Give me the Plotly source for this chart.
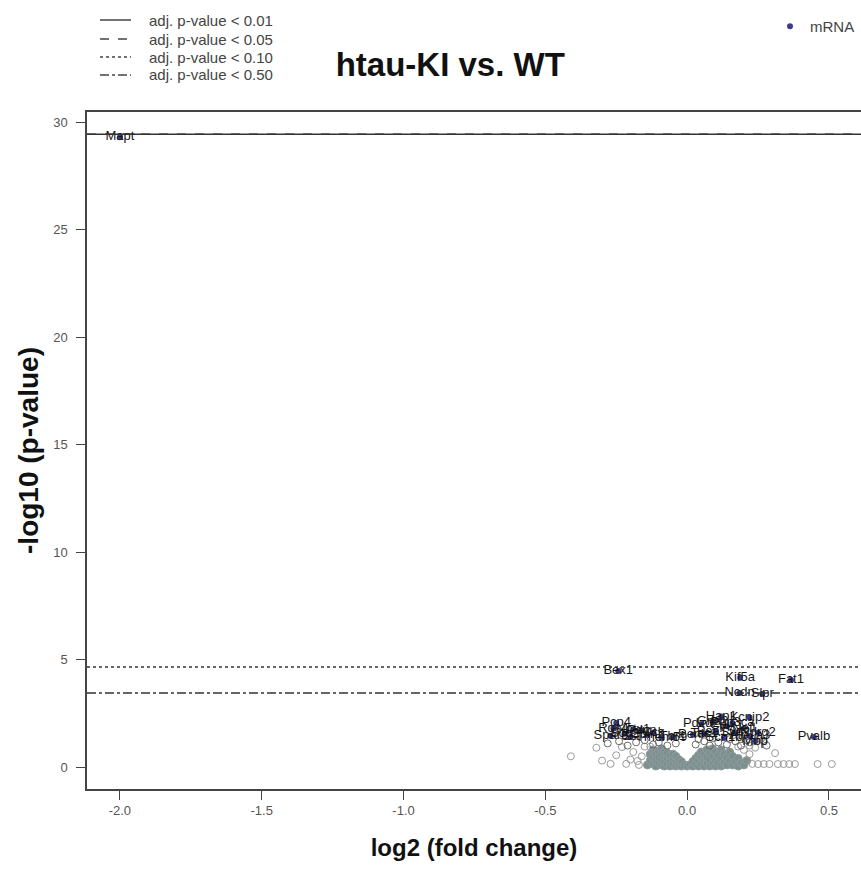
import plotly.graph_objects as go

# ---------------- data ----------------
# significant / labelled genes (navy dots with labels)
sig_genes = ["Mapt", "Bex1", "Kif5a", "Fat1", "Ncdn", "Slpr",
             "Pcp4", "Rgs4", "Sparc", "Scg2", "Nptx1", "Pdyn", "Cbln2", "Cck", "Tmem59", "Tbr1", "Sst",
             "Penk", "Pdzd2", "Tac1", "Pea15", "Gria2", "Hap1", "Kcnip2", "Cplx1", "Syn2", "Nefl",
             "Atp1a3", "Ndrg2", "Scn1b", "Ppp3ca", "Mbp", "Pvalb"]
sig_lfc = [-2.00, -0.243, 0.187, 0.366, 0.185, 0.265,
           -0.25, -0.26, -0.27, -0.22, -0.19, -0.16, -0.14, -0.12, -0.09, -0.05, -0.20,
           0.02, 0.05, 0.06, 0.10, 0.09, 0.12, 0.22, 0.14, 0.17, 0.20,
           0.22, 0.25, 0.13, 0.16, 0.24, 0.447]
sig_p = [29.3, 4.47, 4.15, 4.05, 3.45, 3.40,
         2.05, 1.80, 1.45, 1.55, 1.75, 1.70, 1.50, 1.60, 1.35, 1.40, 1.40,
         1.50, 2.00, 1.55, 1.65, 2.10, 2.35, 2.30, 1.90, 1.60, 1.80,
         1.45, 1.60, 1.35, 2.05, 1.20, 1.40]

# dense non-significant core (filled grey)
core_lfc = [-0.14, -0.13, -0.13, -0.12, -0.12, -0.12, -0.11, -0.11, -0.11, -0.10, -0.10, -0.10,
            -0.09, -0.09, -0.09, -0.09, -0.08, -0.08, -0.08, -0.08, -0.07, -0.07, -0.07,
            -0.06, -0.06, -0.06, -0.05, -0.05, -0.05, -0.04, -0.04, -0.04, -0.03, -0.03,
            -0.02, -0.02, -0.01, 0.00,
            0.01, 0.02, 0.02, 0.03, 0.03, 0.04, 0.04, 0.04, 0.05, 0.05, 0.05, 0.06, 0.06, 0.06,
            0.07, 0.07, 0.07, 0.08, 0.08, 0.08, 0.09, 0.09, 0.09, 0.10, 0.10, 0.10, 0.11, 0.11,
            0.12, 0.12, 0.12, 0.13, 0.13, 0.14, 0.14, 0.15, 0.15, 0.16, 0.16, 0.17, 0.18, 0.18,
            0.19, 0.20, 0.21]
core_p = [0.10, 0.30, 0.60, 0.15, 0.45, 0.80, 0.05, 0.30, 0.60, 0.20, 0.45, 0.75,
          0.10, 0.35, 0.60, 0.85, 0.05, 0.25, 0.50, 0.70, 0.15, 0.40, 0.65,
          0.05, 0.30, 0.55, 0.15, 0.40, 0.60, 0.05, 0.30, 0.50, 0.10, 0.35,
          0.05, 0.25, 0.10, 0.05,
          0.10, 0.05, 0.25, 0.15, 0.40, 0.05, 0.30, 0.55, 0.15, 0.45, 0.70, 0.05, 0.30, 0.60,
          0.20, 0.45, 0.80, 0.05, 0.35, 0.65, 0.15, 0.50, 0.85, 0.05, 0.30, 0.70, 0.20, 0.55,
          0.05, 0.40, 0.80, 0.20, 0.60, 0.10, 0.45, 0.30, 0.70, 0.10, 0.50, 0.25, 0.05, 0.40,
          0.20, 0.10, 0.30]

# scattered non-significant genes (open grey circles)
out_lfc = [-0.41, -0.32, -0.30, -0.27, -0.25, -0.23, -0.215, -0.20, -0.19, -0.175, -0.16, -0.15,
           -0.17, -0.13, 0.18, 0.20, 0.22, 0.22, 0.23, 0.24, 0.25, 0.27, 0.29, 0.31, 0.32,
           0.34, 0.36, 0.38, 0.46, 0.51]
out_p = [0.50, 0.90, 0.30, 0.15, 0.55, 0.93, 0.15, 0.35, 0.70, 0.28, 0.50, 0.95,
         0.10, 0.95, 0.95, 0.80, 1.00, 0.60, 0.15, 0.90, 0.14, 0.14, 0.14, 0.65, 0.14,
         0.14, 0.14, 0.14, 0.14, 0.14]

# mid-range genes beneath the label cloud (darker open circles)
mid_lfc = [-0.28, -0.24, -0.21, -0.18, -0.15, -0.12, -0.10, -0.07, -0.04, 0.03, 0.06, 0.08,
           0.11, 0.14, 0.17, 0.19, 0.22, 0.26, 0.28, 0.27, 0.04, 0.09, 0.15, 0.21]
mid_p = [1.10, 1.20, 1.00, 1.15, 1.25, 1.05, 1.15, 1.00, 1.10, 1.05, 1.20, 1.00,
         1.15, 1.05, 1.20, 1.00, 1.15, 1.30, 1.00, 1.20, 1.30, 1.35, 1.30, 1.25]

# significance threshold lines (-log10 p)
thr_names = ["adj. p-value < 0.01", "adj. p-value < 0.05", "adj. p-value < 0.10", "adj. p-value < 0.50"]
thr_vals = [29.44, 29.44, 4.66, 3.45]
thr_dash = ["solid", "dash", "dot", "dashdot"]

x_ticks = [-2.0, -1.5, -1.0, -0.5, 0.0, 0.5]
x_ticktext = ["-2.0", "-1.5", "-1.0", "-0.5", "0.0", "0.5"]
y_ticks = [0, 5, 10, 15, 20, 25, 30]

FONT = "Arial, Liberation Sans, sans-serif"

# plot area in pixels (for placing the hand-drawn line legend)
L, T, R, B = 87, 112, 861, 789
def px(x):
    return (x - L) / (R - L)
def py(y):
    return (B - y) / (B - T)

fig = go.Figure()

fig.add_trace(go.Scatter(x=core_lfc, y=core_p, mode="markers", showlegend=False, hoverinfo="skip",
                         marker=dict(symbol="circle", size=8, color="#7d8f8f",
                                     line=dict(color="#8d9c9c", width=1))))
fig.add_trace(go.Scatter(x=out_lfc, y=out_p, mode="markers", showlegend=False,
                         marker=dict(symbol="circle-open", size=7, color="#9a9a9a", line=dict(width=1))))
fig.add_trace(go.Scatter(x=mid_lfc, y=mid_p, mode="markers", showlegend=False,
                         marker=dict(symbol="circle-open", size=7, color="#6a6a6a", line=dict(width=1))))
fig.add_trace(go.Scatter(x=sig_lfc, y=sig_p, mode="markers", name="mRNA", legend="legend2",
                         marker=dict(symbol="circle", size=6, color="#3c3c8c")))
fig.add_trace(go.Scatter(x=sig_lfc, y=sig_p, mode="text", text=sig_genes, showlegend=False,
                         textposition="middle center",
                         textfont=dict(family=FONT, size=13, color="#151515")))

legend_rows = [20, 39, 57, 75]
for name, v, d, ry in zip(thr_names, thr_vals, thr_dash, legend_rows):
    fig.add_shape(type="line", xref="paper", x0=0, x1=1, yref="y", y0=v, y1=v,
                  line=dict(color="#333333", width=1.5, dash=d))
    # legend sample + label
    fig.add_shape(type="line", xref="paper", yref="paper", x0=px(100), x1=px(131),
                  y0=py(ry), y1=py(ry), line=dict(color="#444444", width=1.5, dash=d))
    fig.add_annotation(xref="paper", yref="paper", x=px(147), y=py(ry), xanchor="left",
                       yanchor="middle", text=name, showarrow=False,
                       font=dict(size=15, color="#444444", family=FONT))

fig.update_layout(
    width=861, height=882,
    margin=dict(l=87, r=0, t=112, b=93),
    paper_bgcolor="white", plot_bgcolor="white",
    font=dict(family=FONT, color="#444444"),
    title=dict(text="<b>htau-KI vs. WT</b>", x=0.523, xanchor="center", xref="container",
               y=1 - 64 / 882, yanchor="middle", font=dict(size=33, color="#111111")),
    legend2=dict(x=(770 - 87) / 774, xanchor="left", y=(789 - 10) / 677, yanchor="top",
                 font=dict(size=15, color="#444444"), bgcolor="rgba(0,0,0,0)", itemwidth=30),
    xaxis=dict(range=[-2.116, 0.613], tickvals=x_ticks, ticktext=x_ticktext,
               showgrid=False, zeroline=False, showline=True, mirror=True,
               linecolor="#444444", linewidth=1.5, ticks="outside", ticklen=9,
               tickcolor="#444444", tickwidth=1.2, tickfont=dict(size=13, color="#555555"),
               title=dict(text="<b>log2 (fold change)</b>", font=dict(size=24, color="#111111"),
                          standoff=22)),
    yaxis=dict(range=[-1.02, 30.47], tickvals=y_ticks,
               showgrid=False, zeroline=False, showline=True, mirror=False,
               linecolor="#444444", linewidth=1.5, ticks="outside", ticklen=9,
               tickcolor="#444444", tickwidth=1.2, tickfont=dict(size=13, color="#555555"),
               ticklabelstandoff=6,
               title=dict(text="<b>-log10 (p-value)</b>", font=dict(size=28, color="#111111"),
                          standoff=6)),
)

fig.write_html("out.html")
